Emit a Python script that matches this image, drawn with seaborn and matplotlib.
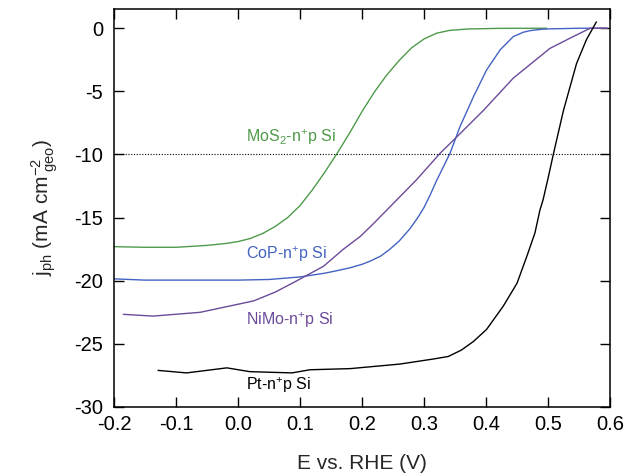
import numpy as np
import pandas as pd
import matplotlib
matplotlib.use("Agg")
import matplotlib.pyplot as plt
import seaborn as sns

# ---- data ----
mos2_E = [-0.200, -0.150, -0.100, -0.050, -0.020, 0.000, 0.020, 0.040, 0.060, 0.080,
          0.100, 0.120, 0.140, 0.160, 0.180, 0.200, 0.220, 0.240, 0.260, 0.280,
          0.300, 0.320, 0.340, 0.370, 0.420, 0.498]
mos2_j = [-17.30, -17.35, -17.35, -17.20, -17.05, -16.90, -16.65, -16.25, -15.70, -15.00,
          -14.05, -12.80, -11.40, -9.90, -8.30, -6.60, -5.05, -3.70, -2.55, -1.55,
          -0.85, -0.40, -0.18, -0.06, -0.01, 0.00]

cop_E = [-0.200, -0.150, -0.100, -0.050, 0.000, 0.050, 0.100, 0.140, 0.160, 0.181,
         0.200, 0.213, 0.230, 0.245, 0.260, 0.277, 0.290, 0.300, 0.310, 0.320, 0.342,
         0.358, 0.380, 0.401, 0.423, 0.444, 0.460, 0.471, 0.490, 0.503, 0.550, 0.595]
cop_j = [-19.85, -19.95, -19.95, -19.95, -19.95, -19.90, -19.70, -19.40, -19.20, -18.97,
         -18.70, -18.45, -18.05, -17.50, -16.85, -15.90, -15.00, -14.20, -13.20, -12.10, -9.90,
         -7.80, -5.40, -3.30, -1.70, -0.66, -0.32, -0.19, -0.08, -0.05, 0.00, 0.00]

nimo_E = [-0.185, -0.137, -0.061, 0.025, 0.060, 0.095, 0.138, 0.170, 0.197, 0.218,
          0.240, 0.256, 0.288, 0.326, 0.353, 0.396, 0.444, 0.503, 0.535, 0.568, 0.595]
nimo_j = [-22.66, -22.80, -22.50, -21.60, -20.90, -20.00, -18.85, -17.50, -16.50, -15.50,
          -14.40, -13.60, -12.00, -9.90, -8.60, -6.50, -3.95, -1.60, -0.80, 0.00, 0.00]

pt_E = [-0.129, -0.083, -0.018, 0.019, 0.087, 0.116, 0.181, 0.261, 0.315, 0.339,
        0.360, 0.380, 0.401, 0.428, 0.450, 0.466, 0.479, 0.487, 0.492, 0.500, 0.509,
        0.525, 0.546, 0.562, 0.578]
pt_j = [-27.10, -27.30, -26.90, -27.20, -27.30, -27.05, -26.96, -26.60, -26.20, -26.00,
        -25.50, -24.80, -23.85, -22.00, -20.20, -18.05, -16.20, -14.40, -13.60, -11.90, -9.90,
        -6.50, -2.80, -0.90, 0.50]

labels = ["MoS$_2$-n$^{+}$p Si", "CoP-n$^{+}$p Si", "NiMo-n$^{+}$p Si", "Pt-n$^{+}$p Si"]
colors = ["#4f9a4a", "#4363c2", "#6b4a9a", "#000000"]
label_pos = [(0.013, -8.65), (0.013, -17.9), (0.013, -23.1), (0.013, -28.25)]

xticks = [-0.2, -0.1, 0.0, 0.1, 0.2, 0.3, 0.4, 0.5, 0.6]
yticks = [0, -5, -10, -15, -20, -25, -30]

# ---- style ----
sns.set_theme(style="ticks")
plt.rcParams["font.family"] = ["Liberation Sans", "DejaVu Sans"]
plt.rcParams["mathtext.fontset"] = "custom"
plt.rcParams["mathtext.rm"] = "Liberation Sans"
plt.rcParams["mathtext.it"] = "Liberation Sans"
plt.rcParams["mathtext.bf"] = "Liberation Sans:bold"

fig = plt.figure(figsize=(6.35, 4.75), dpi=100)
ax = fig.add_axes([114/635, 1-407/475, (610-114)/635, (407-9.3)/475])

series = [(mos2_E, mos2_j), (cop_E, cop_j), (nimo_E, nimo_j), (pt_E, pt_j)]
frames = []
for (E, j), lab in zip(series, labels):
    frames.append(pd.DataFrame({"E": E, "j": j, "s": lab}))
df = pd.concat(frames, ignore_index=True)

sns.lineplot(data=df, x="E", y="j", hue="s", palette=dict(zip(labels, colors)),
             sort=False, estimator=None, linewidth=1.0, legend=False, ax=ax)

ax.axhline(-10, color="black", linestyle=(0, (1, 1.5)), linewidth=0.8)

for lab, c, (x, y) in zip(labels, colors, label_pos):
    ax.text(x, y, lab, color=c, fontsize=11.5, ha="left", va="center")

ax.set_xlim(-0.2, 0.6)
ax.set_ylim(-30, 1.5)
ax.set_xticks(xticks)
ax.set_xticklabels([f"{v:.1f}" for v in xticks])
ax.set_yticks(yticks)
ax.set_yticklabels([str(v) for v in yticks])
ax.tick_params(direction="in", top=True, right=True, length=7, width=1,
               labelsize=14.5, colors="black", pad=6)
ax.tick_params(axis="y", pad=8)
for sp in ax.spines.values():
    sp.set_linewidth(1.1)
    sp.set_color("black")

ax.set_xlabel("E vs. RHE (V)", fontsize=15, labelpad=14)
ax.set_ylabel(r"$\mathregular{j_{ph}\ (mA\ cm^{-2}_{\ geo})}$", fontsize=15, labelpad=10)

fig.savefig("out.png", dpi=100)
